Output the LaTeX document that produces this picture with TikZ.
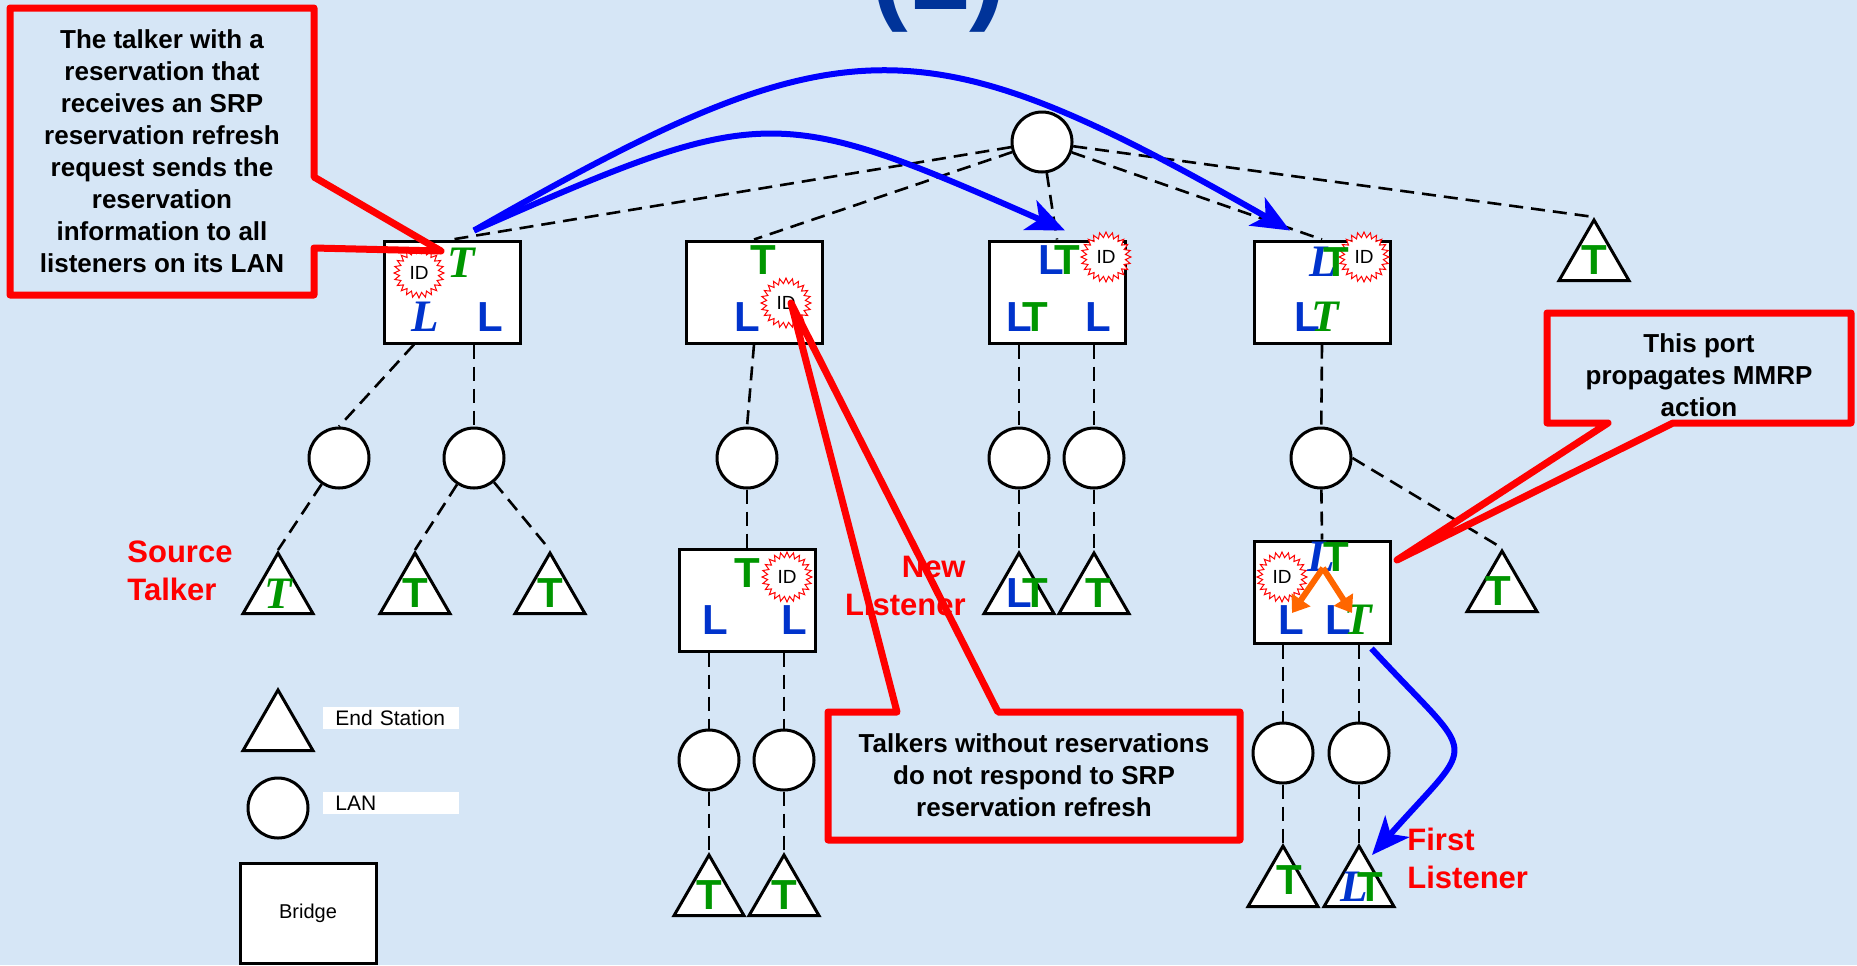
\documentclass[tikz,border=0pt]{standalone}
\usepackage{fontspec}
\setmainfont{Liberation Sans}
\newfontfamily\timesfont{Liberation Serif}
\usepackage{xcolor}
\usepackage{tikz}
\usetikzlibrary{shapes.geometric, arrows.meta, positioning, calc}

\definecolor{bgblue}{RGB}{214,230,246}
\definecolor{titleblue}{RGB}{0,51,153}
\definecolor{tgreen}{RGB}{0,150,0}
\definecolor{lblue}{RGB}{0,51,204}
\definecolor{arrowblue}{RGB}{0,0,255}
\definecolor{spreadorange}{RGB}{255,102,0}

\newcommand{\Tb}{\textcolor{tgreen}{\bfseries T}}
\newcommand{\Lb}{\textcolor{lblue}{\bfseries L}}
\newcommand{\Ti}{\textcolor{tgreen}{\fontsize{22.5}{22.5}\selectfont\timesfont\bfseries\itshape T}}
\newcommand{\Li}{\textcolor{lblue}{\fontsize{22.5}{22.5}\selectfont\timesfont\bfseries\itshape L}}

\begin{document}
\begin{tikzpicture}
  [
    x=0.5pt, y=-0.5pt,
    Bridge/.style={rectangle, draw=black, fill=white, line width=1.5pt, minimum width=68pt, minimum height=51pt, inner sep=0pt},
    Lan/.style={circle, draw=black, fill=white, line width=1.5pt, minimum size=30pt, inner sep=0pt},
    Station/.style={regular polygon, regular polygon sides=3, draw=black, fill=white, line width=1.5pt, minimum size=40.4pt, inner sep=0pt, anchor=corner 1},
    Burst/.style={star, star points=24, star point ratio=1.28, draw=red, fill=white, line width=0.5pt, minimum size=25pt, inner sep=0pt, font=\fontsize{9.5}{9.5}\selectfont},
    Letter/.style={inner sep=0pt, font=\fontsize{21}{21}\selectfont},
    Link/.style={draw=black, line width=1.3pt, dash pattern=on 7pt off 4pt},
    Callout/.style={draw=red, line width=3.5pt, line join=round},
    Note/.style={align=center, font=\fontsize{13}{16}\selectfont\bfseries},
    Tag/.style={text=red, font=\fontsize{15.5}{19}\selectfont\bfseries, inner sep=0pt},
    Send/.style={draw=arrowblue, line width=3pt, -{Stealth[length=19pt, width=16pt, inset=5pt]}},
    Spread/.style={draw=spreadorange, line width=3pt, -{Triangle[length=8pt, width=11pt]}},
    Key/.style={rectangle, fill=white, minimum height=11pt, inner xsep=6pt, inner ysep=0pt, text width=56pt, align=left, font=\fontsize{10.5}{10.5}\selectfont}
  ]
  % Background
  \useasboundingbox (0,0) rectangle (1857,965);
  \clip (0,0) rectangle (1857,965);
  \fill[bgblue] (0,0) rectangle (1857,965);
  \node[anchor=base, text=titleblue, font=\fontsize{55}{55}\selectfont\bfseries, inner sep=0pt] (title) at (939,9) {(1)};

  % Nodes
  \node[Lan] (root) at (1042,142) {};
  \node[Bridge] (b1) at (452,292) {};
  \node[Bridge] (b2) at (754,292) {};
  \node[Bridge] (b3) at (1057,292) {};
  \node[Bridge] (b4) at (1322,292) {};
  \node[Station, label={[Letter]center:\Tb}] (st0) at (1594,217) {};

  \node[Lan] (lan11) at (339,458) {};
  \node[Lan] (lan12) at (474,458) {};
  \node[Lan] (lan21) at (747,458) {};
  \node[Lan] (lan31) at (1019,458) {};
  \node[Lan] (lan32) at (1094,458) {};
  \node[Lan] (lan41) at (1321,458) {};

  \node[Station, label={[Letter]center:\Ti}] (st11) at (278,550) {};
  \node[Station, label={[Letter]center:\Tb}] (st12) at (415,550) {};
  \node[Station, label={[Letter]center:\Tb}] (st13) at (550,550) {};
  \node[Station, label={[Letter, xshift=4pt]center:\Lb\kern-4.8pt\Tb}] (st31) at (1019,550) {};
  \node[Station, label={[Letter, xshift=2pt]center:\Tb}] (st32) at (1094,550) {};
  \node[Station, label={[Letter, xshift=-2pt]center:\Tb}] (st41) at (1502,548) {};

  \node[Bridge] (b5) at (747,600) {};
  \node[Bridge] (b6) at (1322,592) {};

  \node[Lan] (lan51) at (709,760) {};
  \node[Lan] (lan52) at (784,760) {};
  \node[Lan] (lan61) at (1283,753) {};
  \node[Lan] (lan62) at (1359,753) {};

  \node[Station, label={[Letter]center:\Tb}] (st51) at (709,852) {};
  \node[Station, label={[Letter]center:\Tb}] (st52) at (784,852) {};
  \node[Station, label={[Letter, xshift=3pt, yshift=3pt]center:\Tb}] (st61) at (1283,843) {};
  \node[Station, label={[Letter, xshift=1.5pt]center:\Li\kern-5pt\Tb}] (st62) at (1359,843) {};

  % Bridge contents
  \node[Burst] (b1id) at (419,273) {ID};
  \node[Letter] (b1t) at (461,263) {\Ti};
  \node[Letter] (b1l1) at (425,317) {\Li};
  \node[Letter] (b1l2) at (490,317) {\Lb};

  \node[Letter] (b2t) at (763,260) {\Tb};
  \node[Letter] (b2l) at (747,317) {\Lb};
  \node[Burst] (b2id) at (786,303) {ID};

  \node[Burst] (b3id) at (1106,257) {ID};
  \node[Letter] (b3l1) at (1051,260) {\Lb};
  \node[Letter] (b3t1) at (1067,260) {\Tb};
  \node[Letter] (b3l2) at (1019,317) {\Lb};
  \node[Letter] (b3t2) at (1035,317) {\Tb};
  \node[Letter] (b3l3) at (1098,317) {\Lb};

  \node[Burst] (b4id) at (1364,257) {ID};
  \node[Letter] (b4l1) at (1323,262) {\Li};
  \node[Letter] (b4t1) at (1336,262) {\Tb};
  \node[Letter] (b4l2) at (1307,317) {\Lb};
  \node[Letter] (b4t2) at (1325,317) {\Ti};

  \node[Letter] (b5t) at (747,573) {\Tb};
  \node[Burst] (b5id) at (787,577) {ID};
  \node[Letter] (b5l1) at (715,620) {\Lb};
  \node[Letter] (b5l2) at (794,620) {\Lb};

  \node[Burst] (b6id) at (1282,577) {ID};
  \node[Letter] (b6l1) at (1321,557) {\Li};
  \node[Letter] (b6t1) at (1336,557) {\Tb};
  \node[Letter] (b6l2) at (1291,620) {\Lb};
  \node[Letter] (b6l3) at (1338,620) {\Lb};
  \node[Letter] (b6t2) at (1358,620) {\Ti};
  \coordinate (fork) at (1323,568);
  \coordinate (forkl) at (1292,613);
  \coordinate (forkr) at (1352,613);

  % Legend
  \node[Station] (keyst) at (278,687) {};
  \node[Key, anchor=west] (keysttext) at (323,717.5) {End Station};
  \node[Lan] (keylan) at (278,808) {};
  \node[Key, anchor=west] (keylantext) at (323,803) {LAN};
  \node[Bridge, minimum height=50pt, font=\fontsize{10}{10}\selectfont] (keyb) at (308,913) {Bridge};

  % Lines
  \draw[Link] (root) -- (b1.north);
  \draw[Link] (root) -- (b2.north);
  \draw[Link] (root) -- (b3.north);
  \draw[Link] (root) -- (b4.north);
  \draw[Link] (root) -- (st0.corner 1);
  \draw[Link] ($(b1.south)+(-38,0)$) -- (lan11.north);
  \draw[Link] (b1.south -| lan12) -- (lan12);
  \draw[Link] (lan11) -- (st11.corner 1);
  \draw[Link] (lan12) -- (st12.corner 1);
  \draw[Link] (lan12) -- (st13.corner 1);
  \draw[Link] (b2.south) -- (lan21.north);
  \draw[Link] (lan21) -- (b5.north);
  \draw[Link] (b5.south -| lan51) -- (lan51);
  \draw[Link] (b5.south -| lan52) -- (lan52);
  \draw[Link] (lan51) -- (st51.corner 1);
  \draw[Link] (lan52) -- (st52.corner 1);
  \draw[Link] (b3.south -| lan31) -- (lan31);
  \draw[Link] (b3.south -| lan32) -- (lan32);
  \draw[Link] (lan31) -- (st31.corner 1);
  \draw[Link] (lan32) -- (st32.corner 1);
  \draw[Link] (b4.south) -- (lan41);
  \draw[Link] (lan41) -- (b6.north);
  \draw[Link] (lan41.east) -- (st41.corner 1);
  \draw[Link] (b6.south -| lan61) -- (lan61);
  \draw[Link] (b6.south -| lan62) -- (lan62);
  \draw[Link] (lan61) -- (st61.corner 1);
  \draw[Link] (lan62) -- (st62.corner 1);

  \draw[Spread] (fork) -- (forkl);
  \draw[Spread] (fork) -- (forkr);

  \draw[Send] ($(b1.north)+(22,-9)$) .. controls (844,19) and (920,19) .. ($(b4.north)+(-32,-9)$);
  \draw[Send] ($(b1.north)+(22,-9)$) .. controls (764,103) and (775,103) .. ($(b3.north)+(8,-9)$);
  \draw[Send] ($(b6.south east)+(-20,4)$) .. controls (1479,765) and (1479,734) .. ($(st62.corner 1)+(13,12)$);

  % Tags
  \node[Tag, anchor=west, align=left] (srctalker) at (127,571) {Source\\Talker};
  \node[Tag, anchor=east, align=right] (newlistener) at (966,586) {New\\Listener};
  \node[Tag, anchor=west, align=left] (firstlistener) at (1407,858) {First\\Listener};

  % Callouts
  \draw[Callout] (10,8) -- (314,8) -- (314,177) -- (441,251) -- (314,248) -- (314,295) -- (10,295) -- cycle;
  \draw[Callout] (828,712) -- (897,712) -- (791,303) -- (998,712) -- (1240,712) -- (1240,840) -- (828,840) -- cycle;
  \draw[Callout] (1547,313) -- (1851,313) -- (1851,423) -- (1673,423) -- (1397,560) -- (1608,423) -- (1547,423) -- cycle;
  \node[Note] (note1) at (162,151) {The talker with a\\reservation that\\receives an SRP\\reservation refresh\\request sends the\\reservation\\information to all\\listeners on its LAN};
  \node[Note] (note2) at (1699,375) {This port\\propagates MMRP\\action};
  \node[Note] (note3) at (1034,775) {Talkers without reservations\\do not respond to SRP\\reservation refresh};
\end{tikzpicture}
\end{document}
